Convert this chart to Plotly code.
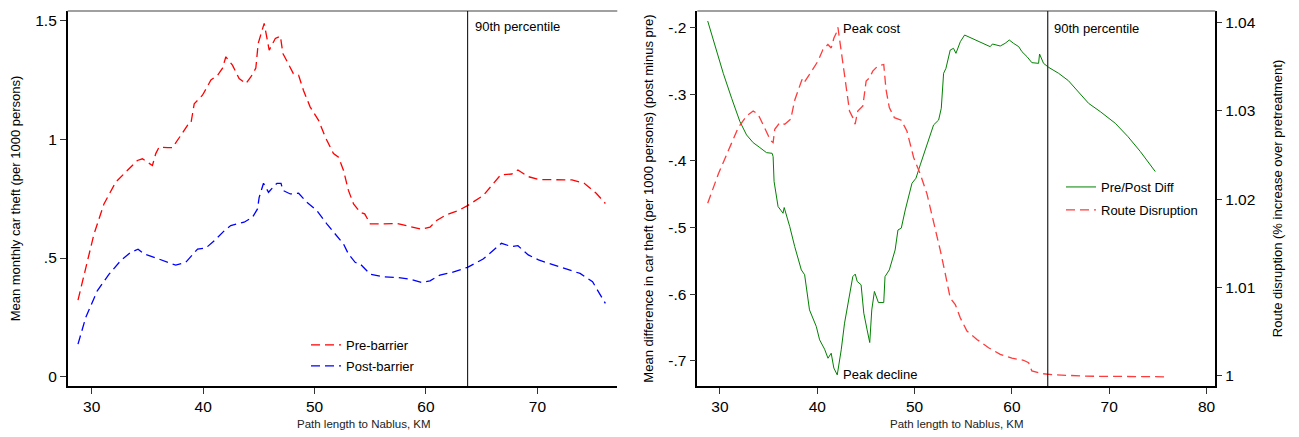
import plotly.graph_objects as go

# ---------------- data ----------------
pre_x = [28.77, 29.46, 30.2, 31.1, 32.16, 33.05, 34.1, 34.55, 35.45, 35.75, 36.05, 36.8, 37.25, 38.0,
         38.6, 38.9, 39.2, 39.94, 40.7, 41.3, 41.74, 42.04, 42.63, 43.23, 43.83, 44.28, 44.73, 44.94,
         45.48, 45.93, 46.48, 46.93, 47.16, 48.1, 48.57, 49.0, 49.6, 50.36, 50.96, 51.7, 52.15, 52.6,
         53.04, 53.5, 54.1, 54.5, 55.0, 56.2, 57.4, 58.6, 59.6, 60.36, 60.96, 61.85, 62.9, 63.73, 65.13,
         66.7, 67.7, 68.25, 69.18, 70.1, 71.97, 73.1, 74.2, 75.3, 76.1]
pre_y = [0.323, 0.46, 0.60, 0.728, 0.82, 0.862, 0.911, 0.918, 0.89, 0.94, 0.968, 0.965, 0.965, 1.017,
         1.059, 1.066, 1.15, 1.186, 1.25, 1.27, 1.30, 1.348, 1.313, 1.256, 1.235, 1.263, 1.30, 1.404,
         1.489, 1.376, 1.425, 1.435, 1.362, 1.277, 1.27, 1.207, 1.137, 1.08, 1.01, 0.94, 0.925, 0.869,
         0.785, 0.728, 0.693, 0.686, 0.644, 0.644, 0.646, 0.632, 0.621, 0.63, 0.658, 0.683, 0.70, 0.721,
         0.763, 0.85, 0.854, 0.871, 0.843, 0.831, 0.829, 0.829, 0.815, 0.772, 0.730]

post_x = [28.77, 29.46, 30.5, 31.56, 32.6, 33.5, 34.16, 34.7, 35.6, 36.5, 37.54, 38.44, 39.04, 39.5,
          40.24, 41.0, 41.9, 42.48, 43.68, 44.43, 44.88, 45.03, 45.42, 45.87, 46.3, 46.63, 46.99, 47.16,
          47.82, 48.57, 49.3, 50.2, 51.1, 52.15, 52.6, 53.04, 53.64, 54.1, 55.0, 56.2, 57.4, 58.6, 59.6,
          60.36, 61.25, 62.3, 63.73, 65.13, 66.77, 67.7, 68.25, 69.18, 70.1, 71.97, 73.83, 74.95, 76.1]
post_y = [0.137, 0.249, 0.362, 0.432, 0.489, 0.524, 0.537, 0.517, 0.503, 0.489, 0.47, 0.482, 0.513, 0.538,
          0.542, 0.573, 0.615, 0.637, 0.651, 0.672, 0.707, 0.756, 0.815, 0.777, 0.80, 0.815, 0.815, 0.785,
          0.77, 0.773, 0.735, 0.70, 0.644, 0.587, 0.559, 0.517, 0.482, 0.475, 0.432, 0.421, 0.418, 0.411,
          0.397, 0.404, 0.428, 0.439, 0.461, 0.496, 0.562, 0.548, 0.552, 0.513, 0.492, 0.463, 0.435, 0.40,
          0.309]

diff_x = [28.74, 29.49, 30.34, 31.2, 32.05, 32.73, 33.41, 34.1, 34.78, 35.36, 35.46, 35.56, 35.97, 36.3,
          36.48, 36.6, 37.17, 37.68, 38.36, 38.7, 39.2, 39.9, 40.24, 40.75, 41.1, 41.43, 41.7, 42.05,
          42.46, 42.8, 43.3, 43.65, 43.9, 44.1, 44.5, 44.78, 45.12, 45.39, 45.6, 45.87, 46.28, 46.83,
          46.96, 47.4, 48.0, 48.18, 48.29, 48.63, 49.04, 49.73, 50.14, 50.58, 51.1, 51.6, 51.95, 52.47,
          52.74, 52.98, 53.22, 53.66, 54.0, 54.25, 54.7, 55.14, 55.9, 56.9, 57.77, 58.0, 58.8, 59.3,
          59.73, 60.17, 60.7, 61.03, 61.55, 62.05, 62.74, 62.84, 63.25, 63.77, 64.8, 65.8, 66.85, 67.88,
          69.08, 70.62, 71.92, 73.2, 74.73]
diff_y = [-0.19, -0.2285, -0.2685, -0.306, -0.341, -0.361, -0.3726, -0.38, -0.3876, -0.3886, -0.3936,
          -0.431, -0.4686, -0.475, -0.4786, -0.470, -0.4986, -0.5286, -0.5637, -0.571, -0.6237, -0.6487,
          -0.6687, -0.6827, -0.6963, -0.6888, -0.711, -0.7213, -0.6837, -0.6437, -0.5987, -0.5737,
          -0.570, -0.581, -0.586, -0.6287, -0.6537, -0.6727, -0.6237, -0.596, -0.6127, -0.6127, -0.5737,
          -0.5637, -0.5337, -0.5187, -0.5037, -0.501, -0.4737, -0.4336, -0.426, -0.406, -0.3836, -0.3586,
          -0.346, -0.3386, -0.321, -0.2685, -0.261, -0.2335, -0.231, -0.2385, -0.221, -0.211, -0.216,
          -0.2235, -0.2285, -0.2245, -0.2275, -0.2235, -0.2185, -0.2235, -0.2285, -0.236, -0.2435,
          -0.2525, -0.2535, -0.2395, -0.2535, -0.2595, -0.2685, -0.2795, -0.296, -0.3136, -0.326,
          -0.3435, -0.3635, -0.386, -0.416]

route_x = [28.74, 29.83, 30.85, 31.88, 32.73, 33.41, 33.92, 34.61, 35.22, 35.46, 35.63, 36.14, 36.66,
           37.27, 37.68, 38.43, 38.63, 39.2, 40.07, 40.58, 41.09, 41.43, 41.71, 41.95, 42.12, 42.46,
           42.97, 43.31, 43.65, 43.89, 44.16, 44.68, 45.02, 45.36, 45.7, 46.21, 46.83, 47.06, 47.4,
           47.92, 48.63, 49.21, 49.9, 50.58, 51.27, 51.78, 52.12, 52.64, 53.15, 53.66, 54.18, 54.69,
           55.38, 56.4, 57.6, 58.8, 60.0, 61.2, 61.71, 62.05, 63.08, 64.1, 67.53, 70.0, 76.1]
route_y = [1.01953, 1.02284, 1.02546, 1.02809, 1.02941, 1.02997, 1.0296, 1.02809, 1.02659, 1.0264,
           1.0279, 1.02865, 1.02847, 1.02904, 1.03118, 1.03354, 1.03316, 1.0341, 1.03561, 1.03692,
           1.03749, 1.0371, 1.03823, 1.0388, 1.03944, 1.03673, 1.03298, 1.02997, 1.02922, 1.02847,
           1.02997, 1.03054, 1.03335, 1.03372, 1.03448, 1.03504, 1.03523, 1.03242, 1.03035, 1.02922,
           1.02892, 1.0277, 1.02471, 1.02284, 1.02059, 1.01833, 1.01682, 1.0142, 1.01157, 1.00882,
           1.00808, 1.00657, 1.00507, 1.00413, 1.00319, 1.00244, 1.002, 1.00177, 1.0015, 1.00056,
           1.00026, 1.00015, 0.99997, 0.99993, 0.9999]

left_ytick_vals = [0, 0.5, 1, 1.5]
left_ytick_text = ["0", ".5", "1", "1.5"]
diff_tick_vals = [-0.2, -0.3, -0.4, -0.5, -0.6, -0.7]
diff_tick_text = ["-.2", "-.3", "-.4", "-.5", "-.6", "-.7"]
route_tick_vals = [1.0, 1.01, 1.02, 1.03, 1.04]
route_tick_text = ["1", "1.01", "1.02", "1.03", "1.04"]
left_xticks = [30, 40, 50, 60, 70]
right_xticks = [30, 40, 50, 60, 70, 80]
p90_left = 63.74
p90_right = 63.68

# ---------------- figure ----------------
FONT = "Liberation Sans, Arial, Helvetica, sans-serif"
W, H = 1299, 437
T, B = 11, 51
PH = H - T - B
DASH = "9px,5px"

fig = go.Figure()
fig.add_trace(go.Scatter(x=pre_x, y=pre_y, mode="lines", name="Pre-barrier",
                         line=dict(color="#ff0000", width=1.3, dash=DASH),
                         xaxis="x", yaxis="y", legend="legend", legendgroup="a"))
fig.add_trace(go.Scatter(x=post_x, y=post_y, mode="lines", name="Post-barrier",
                         line=dict(color="#0000ff", width=1.3, dash=DASH),
                         xaxis="x", yaxis="y", legend="legend", legendgroup="b"))
fig.add_trace(go.Scatter(x=diff_x, y=diff_y, mode="lines", name="Pre/Post Diff",
                         line=dict(color="#008000", width=1),
                         xaxis="x2", yaxis="y2", legend="legend2", legendgroup="c"))
fig.add_trace(go.Scatter(x=route_x, y=route_y, mode="lines", name="Route Disruption",
                         line=dict(color="#ff3b3b", width=1.3, dash=DASH),
                         xaxis="x2", yaxis="y3", legend="legend2", legendgroup="d"))


def axis_style(ticklen=6):
    return dict(showgrid=False, zeroline=False, showline=True, linecolor="black", linewidth=1.6,
                ticks="outside", ticklen=ticklen, tickwidth=1.2, tickcolor="#333333",
                tickfont=dict(family=FONT, size=15.5, color="black"), automargin=False)


title_font = dict(family=FONT, size=13, color="black")

fig.update_layout(
    template="none",
    width=W, height=H,
    margin=dict(l=0, r=0, t=T, b=B),
    paper_bgcolor="white", plot_bgcolor="white",
    showlegend=True,
    xaxis=dict(domain=[67.7 / W, 617.3 / W], range=[27.846, 77.17], tickvals=left_xticks,
               anchor="y", **axis_style()),
    yaxis=dict(domain=[0, 1], range=[-0.0392, 1.5409], tickvals=left_ytick_vals, ticktext=left_ytick_text,
               anchor="x", title=dict(text="Mean monthly car theft (per 1000 persons)", font=title_font,
                                      standoff=12), **axis_style()),
    xaxis2=dict(domain=[697.3 / W, 1215.3 / W], range=[27.67, 80.9], tickvals=right_xticks,
                anchor="y2", **axis_style()),
    yaxis2=dict(domain=[0, 1], range=[-0.73799, -0.17493], tickvals=diff_tick_vals, ticktext=diff_tick_text,
                anchor="x2",
                title=dict(text="Mean difference in car theft (per 1000 persons) (post minus pre)",
                           font=title_font, standoff=12), **axis_style()),
    yaxis3=dict(domain=[0, 1], range=[0.99886, 1.04128], tickvals=route_tick_vals, ticktext=route_tick_text,
                anchor="x2", overlaying="y2", side="right",
                title=dict(text="Route disruption (% increase over pretreatment)", font=title_font,
                           standoff=18), **axis_style(5)),
    legend=dict(x=306 / W, y=(H - B - 330) / PH, xanchor="left", yanchor="top",
                bgcolor="rgba(0,0,0,0)", borderwidth=0, traceorder="grouped", tracegroupgap=1,
                font=dict(family=FONT, size=13, color="black")),
    legend2=dict(x=1061 / W, y=(H - B - 172) / PH, xanchor="left", yanchor="top",
                 bgcolor="rgba(0,0,0,0)", borderwidth=0, traceorder="grouped", tracegroupgap=3,
                 font=dict(family=FONT, size=13, color="black")),
)

# top outline of each plot region and 90th percentile lines
fig.add_shape(type="line", xref="x domain", yref="y domain", x0=0, x1=1, y0=1, y1=1,
              line=dict(color="#808080", width=1.4))
fig.add_shape(type="line", xref="x2 domain", yref="y2 domain", x0=0, x1=1, y0=1, y1=1,
              line=dict(color="#808080", width=1.4))
fig.add_shape(type="line", xref="x", yref="y domain", x0=p90_left, x1=p90_left, y0=0, y1=1,
              line=dict(color="black", width=1))
fig.add_shape(type="line", xref="x2", yref="y2 domain", x0=p90_right, x1=p90_right, y0=0, y1=1,
              line=dict(color="#222222", width=1.2))

ann_font = dict(family=FONT, size=13, color="black")
fig.add_annotation(x=p90_left, xref="x", y=(H - B - 26) / PH, yref="y domain", text="90th percentile",
                   showarrow=False, xanchor="left", yanchor="middle", xshift=5, font=ann_font)
fig.add_annotation(x=p90_right, xref="x2", y=(H - B - 28) / PH, yref="y2 domain", text="90th percentile",
                   showarrow=False, xanchor="left", yanchor="middle", xshift=4, font=ann_font)
fig.add_annotation(x=42.12, xref="x2", y=-0.201, yref="y2", text="Peak cost", showarrow=False,
                   xanchor="left", yanchor="middle", xshift=3, font=ann_font)
fig.add_annotation(x=42.12, xref="x2", y=-0.72, yref="y2", text="Peak decline", showarrow=False,
                   xanchor="left", yanchor="middle", xshift=3, font=ann_font)

xt_font = dict(family=FONT, size=11.5, color="#222222")
fig.add_annotation(x=364 / W, xref="paper", y=(H - B - 424.3) / PH, yref="paper",
                   text="Path length to Nablus, KM", showarrow=False, xanchor="center", yanchor="middle",
                   font=xt_font)
fig.add_annotation(x=956.6 / W, xref="paper", y=(H - B - 424.3) / PH, yref="paper",
                   text="Path length to Nablus, KM", showarrow=False, xanchor="center", yanchor="middle",
                   font=xt_font)

fig.write_html("out.html", config={"displayModeBar": False},
               post_script="document.body.style.margin='0px';")
